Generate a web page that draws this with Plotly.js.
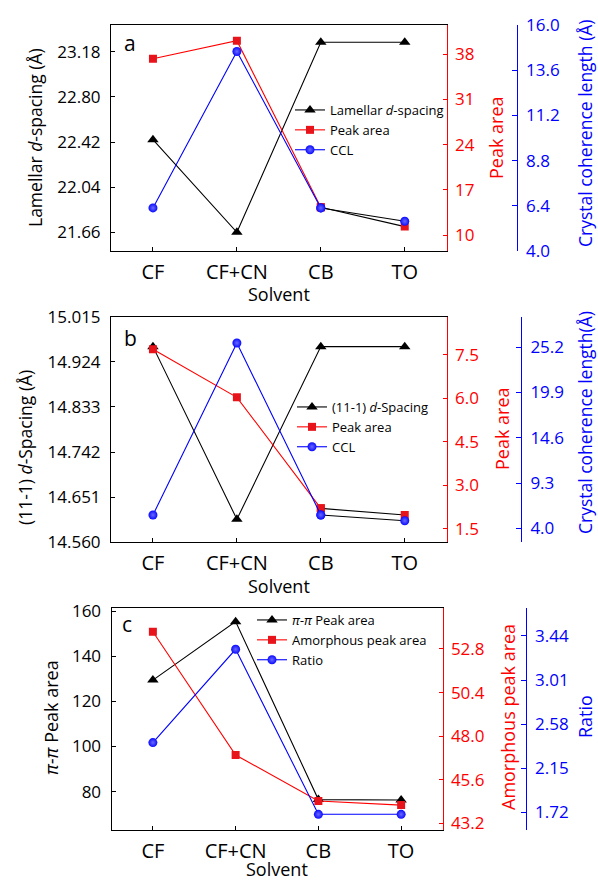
<!DOCTYPE html>
<html>
<head>
<meta charset="utf-8">
<script src="https://cdn.plot.ly/plotly-3.0.1.min.js"></script>
<style>html,body{margin:0;padding:0;background:#fff;}#chart{width:598px;height:881px;}</style>
</head>
<body>
<div id="chart"></div>
<script>
// ---------- data ----------
const categories = ['CF', 'CF+CN', 'CB', 'TO'];

const aLamellar = [22.44, 21.66, 23.26, 23.26];
const aPeakArea = [37.3, 40.1, 14.3, 11.3];
const aCCL = [6.28, 14.6, 6.28, 5.57];

const bSpacing = [14.955, 14.606, 14.955, 14.955];
const bPeakArea = [7.7, 6.04, 2.21, 1.98];
const bCCL = [5.56, 25.7, 5.56, 4.89];

const cPiPi = [129.4, 155.3, 76.5, 76.3];
const cAmorphous = [53.75, 46.96, 44.43, 44.2];
const cRatio = [2.40, 3.31, 1.70, 1.70];

// ---------- tick values ----------
const aLeftTicks = [21.66, 22.04, 22.42, 22.80, 23.18];
const aRedTicks = [10, 17, 24, 31, 38];
const aBlueTicks = [4.0, 6.4, 8.8, 11.2, 13.6, 16.0];
const bLeftTicks = [14.560, 14.651, 14.742, 14.833, 14.924, 15.015];
const bRedTicks = [1.5, 3.0, 4.5, 6.0, 7.5];
const bBlueTicks = [4.0, 9.3, 14.6, 19.9, 25.2];
const cLeftTicks = [80, 100, 120, 140, 160];
const cRedTicks = [43.2, 45.6, 48.0, 50.4, 52.8];
const cBlueTicks = [1.72, 2.15, 2.58, 3.01, 3.44];

// ---------- styling ----------
const W = 598, H = 881;
const px = v => v / W;
const py = v => 1 - v / H;
const FONT = 'Open Sans, Noto Sans, sans-serif';
const RED = '#ff0000', BLUE = '#0000ff';
const MK = {
  tri: {symbol: 'triangle-up', size: 10, color: '#000000'},
  sq: {symbol: 'square', size: 8, color: '#e8141c'},
  ci: {symbol: 'circle', size: 9, color: '#0a0aff', gradient: {type: 'radial', color: '#6a6aff'}}
};

const traces = [];
function series(xa, ya, y, name, legend, lineColor, mk, blackTail) {
  if (!blackTail) {
    traces.push({x: categories, y: y, xaxis: xa, yaxis: ya, name: name, legend: legend,
      mode: 'lines+markers', line: {color: lineColor, width: 1.1}, marker: mk});
    return;
  }
  traces.push({x: categories.slice(0, 3), y: y.slice(0, 3), xaxis: xa, yaxis: ya, name: name, legend: legend,
    mode: 'lines+markers', line: {color: lineColor, width: 1.1}, marker: mk});
  traces.push({x: categories.slice(2), y: y.slice(2), xaxis: xa, yaxis: ya, legend: legend, showlegend: false,
    mode: 'lines', line: {color: '#000000', width: 1.1}, hoverinfo: 'skip'});
  traces.push({x: categories.slice(2), y: y.slice(2), xaxis: xa, yaxis: ya, legend: legend, showlegend: false,
    mode: 'markers', marker: mk});
}

// panel a
series('x', 'y', aLamellar, 'Lamellar <i>d</i>-spacing', 'legend', '#000000', MK.tri, false);
series('x', 'y2', aPeakArea, 'Peak area', 'legend', RED, MK.sq, true);
series('x', 'y3', aCCL, 'CCL', 'legend', BLUE, MK.ci, true);
// panel b
series('x2', 'y4', bSpacing, '(11-1) <i>d</i>-Spacing', 'legend2', '#000000', MK.tri, false);
series('x2', 'y5', bPeakArea, 'Peak area', 'legend2', RED, MK.sq, true);
series('x2', 'y6', bCCL, 'CCL', 'legend2', BLUE, MK.ci, true);
// panel c
series('x3', 'y7', cPiPi, '<i>π-π</i> Peak area', 'legend3', '#000000', MK.tri, false);
series('x3', 'y8', cAmorphous, 'Amorphous peak area', 'legend3', RED, MK.sq, false);
series('x3', 'y9', cRatio, 'Ratio', 'legend3', BLUE, MK.ci, false);

function xAxis(dom, anchor) {
  return {type: 'category', domain: dom, anchor: anchor, range: [-0.5, 3.5],
    showline: true, mirror: true, linecolor: '#000', linewidth: 1,
    ticks: 'inside', ticklen: 4, tickcolor: '#000', tickfont: {size: 20, color: '#000'},
    showgrid: false, zeroline: false, fixedrange: true, ticklabelstandoff: 3};
}
function yLeft(dom, anchor, range, tv, fmt) {
  return {domain: dom, anchor: anchor, range: range, tickvals: tv, tickformat: fmt,
    showline: true, linecolor: '#000', linewidth: 1, ticks: 'inside', ticklen: 4, tickcolor: '#000',
    tickfont: {size: 17, color: '#000'}, showgrid: false, zeroline: false, ticklabelstandoff: 6};
}
function yRed(over, anchor, range, tv, fmt) {
  return {overlaying: over, anchor: anchor, side: 'right', range: range, tickvals: tv, tickformat: fmt,
    showline: true, linecolor: RED, linewidth: 1, ticks: 'inside', ticklen: 4, tickcolor: RED,
    tickfont: {size: 17, color: RED}, showgrid: false, zeroline: false, ticklabelstandoff: 4};
}
function yBlue(over, pos, range, tv, fmt) {
  return {overlaying: over, anchor: 'free', position: pos, side: 'right', range: range, tickvals: tv, tickformat: fmt,
    showline: true, linecolor: BLUE, linewidth: 1, ticks: 'inside', ticklen: 5, tickcolor: BLUE,
    tickfont: {size: 17, color: BLUE}, showgrid: false, zeroline: false, ticklabelstandoff: 5};
}

const domXab = [px(111), px(446.7)];
const domXc = [px(111.5), px(442.5)];
const domYa = [py(251), py(25)];
const domYb = [py(542.3), py(316.7)];
const domYc = [py(830), py(608.3)];

function ann(text, x, y, color, size, angle, extra) {
  return Object.assign({text: text, x: px(x), y: py(y), xref: 'paper', yref: 'paper',
    xanchor: 'center', yanchor: 'middle', showarrow: false, textangle: angle || 0,
    font: {size: size, color: color, family: FONT}}, extra || {});
}

function leg(x, y) {
  return {x: px(x), y: py(y), xanchor: 'left', yanchor: 'top', bgcolor: 'rgba(0,0,0,0)',
    font: {size: 13, color: '#000', family: FONT}, tracegroupgap: 0, itemwidth: 30};
}

const layout = {
  width: W, height: H,
  margin: {l: 0, r: 0, t: 0, b: 0},
  paper_bgcolor: '#fff', plot_bgcolor: 'rgba(0,0,0,0)',
  font: {family: FONT, color: '#000'},
  xaxis: xAxis(domXab, 'y'),
  xaxis2: xAxis(domXab, 'y4'),
  xaxis3: xAxis(domXc, 'y7'),
  yaxis: yLeft(domYa, 'x', [21.503, 23.405], aLeftTicks, '.2f'),
  yaxis2: yRed('y', 'x', [7.52, 42.54], aRedTicks, 'd'),
  yaxis3: yBlue('y', px(516.7), [3.99, 16.01], aBlueTicks, '.1f'),
  yaxis4: yLeft(domYb, 'x2', [14.5595, 15.0155], bLeftTicks, '.3f'),
  yaxis5: yRed('y4', 'x2', [1.04, 8.82], bRedTicks, '.1f'),
  yaxis6: yBlue('y4', px(521), [2.36, 28.78], bBlueTicks, '.1f'),
  yaxis7: yLeft(domYc, 'x3', [63.04, 161.2], cLeftTicks, 'd'),
  yaxis8: yRed('y7', 'x3', [42.83, 55.04], cRedTicks, '.1f'),
  yaxis9: yBlue('y7', px(525.7), [1.547, 3.71], cBlueTicks, '.2f'),
  legend: leg(290, 95),
  legend2: leg(292, 392),
  legend3: leg(252, 605),
  showlegend: true,
  annotations: [
    ann('a', 130, 43, '#000', 21),
    ann('b', 130, 338, '#000', 21),
    ann('c', 127, 624, '#000', 21),
    ann('Lamellar <i>d</i>-spacing (Å)', 35, 138, '#000', 17.5, -90),
    ann('Peak area', 496, 138, RED, 18, -90),
    ann('Crystal coherence length (Å)', 585, 133, BLUE, 17.5, -90),
    ann('Solvent', 279, 294, '#000', 18),
    ann('(11-1) <i>d</i>-Spacing (Å)', 25, 448, '#000', 17.5, -90),
    ann('Peak area', 502, 429, RED, 18, -90),
    ann('Crystal coherence length(Å)', 585, 423, BLUE, 17.5, -90),
    ann('Solvent', 279, 586, '#000', 18),
    ann('<i>π-π</i> Peak area', 51, 718, '#000', 18, -90),
    ann('Amorphous peak area', 508, 717, RED, 18, -90),
    ann('Ratio', 585, 717, BLUE, 18, -90),
    ann('Solvent', 277, 869, '#000', 18)
  ]
};

Plotly.newPlot('chart', traces, layout, {staticPlot: true, displayModeBar: false});
</script>
</body>
</html>
